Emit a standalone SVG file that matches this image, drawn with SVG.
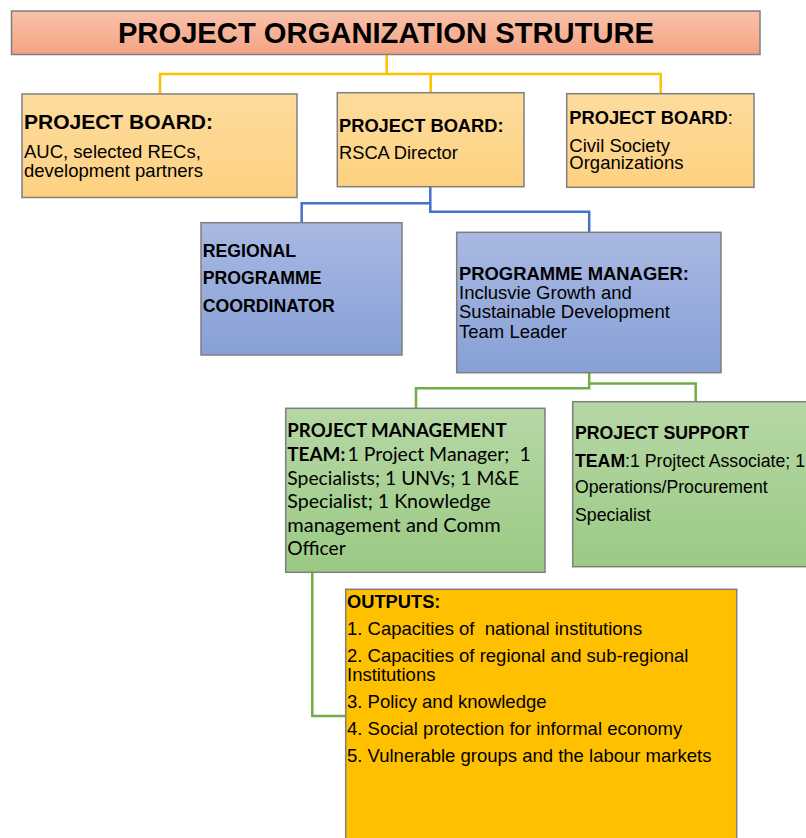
<svg xmlns="http://www.w3.org/2000/svg" width="806" height="838" viewBox="0 0 806 838">
  <defs>
    <linearGradient id="gTitle" x1="0" y1="0" x2="0" y2="1">
      <stop offset="0" stop-color="#f8c2ab"/>
      <stop offset="1" stop-color="#f4a383"/>
    </linearGradient>
    <linearGradient id="gYellow" x1="0" y1="0" x2="0" y2="1">
      <stop offset="0" stop-color="#fedc9d"/>
      <stop offset="1" stop-color="#fdd180"/>
    </linearGradient>
    <linearGradient id="gBlue" x1="0" y1="0" x2="0" y2="1">
      <stop offset="0" stop-color="#a9b9e2"/>
      <stop offset="1" stop-color="#88a0d7"/>
    </linearGradient>
    <linearGradient id="gGreen" x1="0" y1="0" x2="0" y2="1">
      <stop offset="0" stop-color="#b6d7a5"/>
      <stop offset="1" stop-color="#9bca84"/>
    </linearGradient>
  </defs>
  <style>
    .box { stroke: #7f7f7f; stroke-width: 1.5; }
    .sans { font-family: "Liberation Sans", Arial, sans-serif; fill: #000; }
    .cal { font-family: Lato, "Open Sans", sans-serif; fill: #000; font-size: 19px; }
    .b { font-weight: bold; }
    .t185 { font-size: 18.5px; }
    .t183 { font-size: 18.3px; }
    .t177 { font-size: 17.7px; }
    .conn { fill: none; stroke-width: 2.5; stroke-linejoin: miter; }
    .cy { stroke: #ffc000; }
    .cb { stroke: #4472c4; }
    .cg { stroke: #70ad47; }
  </style>

  <rect width="806" height="838" fill="#ffffff"/>

  <!-- connectors -->
  <g id="connectors">
    <path class="conn cy" d="M386.7,54.5 V74"/>
    <path class="conn cy" d="M160,93.7 V74 H660.7 V93.7"/>
    <path class="conn cy" d="M430.7,74 V92.7"/>
    <path class="conn cb" d="M430.3,186.7 V211.7 H589.2 V232.3"/>
    <path class="conn cb" d="M430.3,203.3 H301.7 V222.7"/>
    <path class="conn cg" d="M589.2,372.7 V383.5 H695.7 V401.7"/>
    <path class="conn cg" d="M589.2,383.5 V388.3 H416 V408.3"/>
    <path class="conn cg" d="M312.3,572.3 V716 H345.7"/>
  </g>

  <!-- title -->
  <g id="title">
    <rect class="box" x="11.5" y="11" width="748.5" height="43.5" fill="url(#gTitle)"/>
    <text class="sans b" x="386" y="42.7" font-size="29.2" text-anchor="middle">PROJECT ORGANIZATION STRUTURE</text>
  </g>

  <!-- board: AUC / RECs / partners -->
  <g id="board-auc">
    <rect class="box" x="22" y="94" width="275" height="103.5" fill="url(#gYellow)"/>
    <text class="sans b" x="24" y="129" font-size="21">PROJECT BOARD:</text>
    <text class="sans t185" x="24" y="158.3">AUC, selected RECs,</text>
    <text class="sans t185" x="24" y="176.7">development partners</text>
  </g>

  <!-- board: RSCA director -->
  <g id="board-rsca">
    <rect class="box" x="337.3" y="92.7" width="186.7" height="94" fill="url(#gYellow)"/>
    <text class="sans b t183" x="339" y="131.7">PROJECT BOARD:</text>
    <text class="sans t183" x="339" y="158.8">RSCA Director</text>
  </g>

  <!-- board: civil society -->
  <g id="board-cso">
    <rect class="box" x="566.7" y="93.7" width="187.3" height="93.6" fill="url(#gYellow)"/>
    <text class="sans t183" x="569.3" y="124"><tspan class="b">PROJECT BOARD</tspan>:</text>
    <text class="sans t185" x="569.3" y="151.7">Civil Society</text>
    <text class="sans t185" x="569.3" y="169.3">Organizations</text>
  </g>

  <!-- regional programme coordinator -->
  <g id="regional-coordinator">
    <rect class="box" x="201" y="222.7" width="201" height="132.3" fill="url(#gBlue)"/>
    <text class="sans b t177" x="202.7" y="257">REGIONAL</text>
    <text class="sans b t177" x="202.7" y="284.3">PROGRAMME</text>
    <text class="sans b t177" x="202.7" y="311.7">COORDINATOR</text>
  </g>

  <!-- programme manager -->
  <g id="programme-manager">
    <rect class="box" x="456.7" y="232.3" width="264.3" height="140.4" fill="url(#gBlue)"/>
    <text class="sans b" x="459" y="280" font-size="18.4">PROGRAMME MANAGER:</text>
    <text class="sans t185" x="459" y="299">Inclusvie Growth and</text>
    <text class="sans t185" x="459" y="318.3">Sustainable Development</text>
    <text class="sans t185" x="459" y="337.7">Team Leader</text>
  </g>

  <!-- project management team -->
  <g id="management-team">
    <rect class="box" x="285.7" y="408.3" width="259.3" height="164" fill="url(#gGreen)"/>
    <text class="cal b" x="287.3" y="437.3" textLength="219.3" lengthAdjust="spacingAndGlyphs">PROJECT MANAGEMENT</text>
    <text class="cal b" x="287.3" y="461" textLength="58" lengthAdjust="spacingAndGlyphs">TEAM:</text>
    <text class="cal" x="347.5" y="461" xml:space="preserve" textLength="183.2" lengthAdjust="spacingAndGlyphs">1 Project Manager;  1</text>
    <text class="cal" x="287.3" y="484.5" textLength="232" lengthAdjust="spacingAndGlyphs">Specialists; 1 UNVs; 1 M&amp;E</text>
    <text class="cal" x="287.3" y="508.3" textLength="203.4" lengthAdjust="spacingAndGlyphs">Specialist; 1 Knowledge</text>
    <text class="cal" x="287.3" y="531.7" textLength="213.4" lengthAdjust="spacingAndGlyphs">management and Comm</text>
    <text class="cal" x="287.3" y="555" textLength="58.4" lengthAdjust="spacingAndGlyphs">Officer</text>
  </g>

  <!-- project support team -->
  <g id="support-team">
    <rect class="box" x="572.7" y="401.7" width="240" height="165" fill="url(#gGreen)"/>
    <text class="sans b t177" x="575" y="439.3">PROJECT SUPPORT</text>
    <text class="sans t177" x="575" y="467.3"><tspan class="b">TEAM</tspan>:1 Projtect Associate; 1</text>
    <text class="sans t177" x="575" y="493.3">Operations/Procurement</text>
    <text class="sans t177" x="575" y="521">Specialist</text>
  </g>

  <!-- outputs -->
  <g id="outputs">
    <rect class="box" x="345.7" y="589.3" width="391" height="262" fill="#ffc000"/>
    <text class="sans b" x="347" y="608.3" font-size="18.3">OUTPUTS:</text>
    <text class="sans t185" x="347" y="635" xml:space="preserve">1. Capacities of  national institutions</text>
    <text class="sans t185" x="347" y="662">2. Capacities of regional and sub-regional</text>
    <text class="sans t185" x="347" y="680.7">Institutions</text>
    <text class="sans t185" x="347" y="707.7">3. Policy and knowledge</text>
    <text class="sans t185" x="347" y="735">4. Social protection for informal economy</text>
    <text class="sans t185" x="347" y="761.7">5. Vulnerable groups and the labour markets</text>
  </g>
</svg>
